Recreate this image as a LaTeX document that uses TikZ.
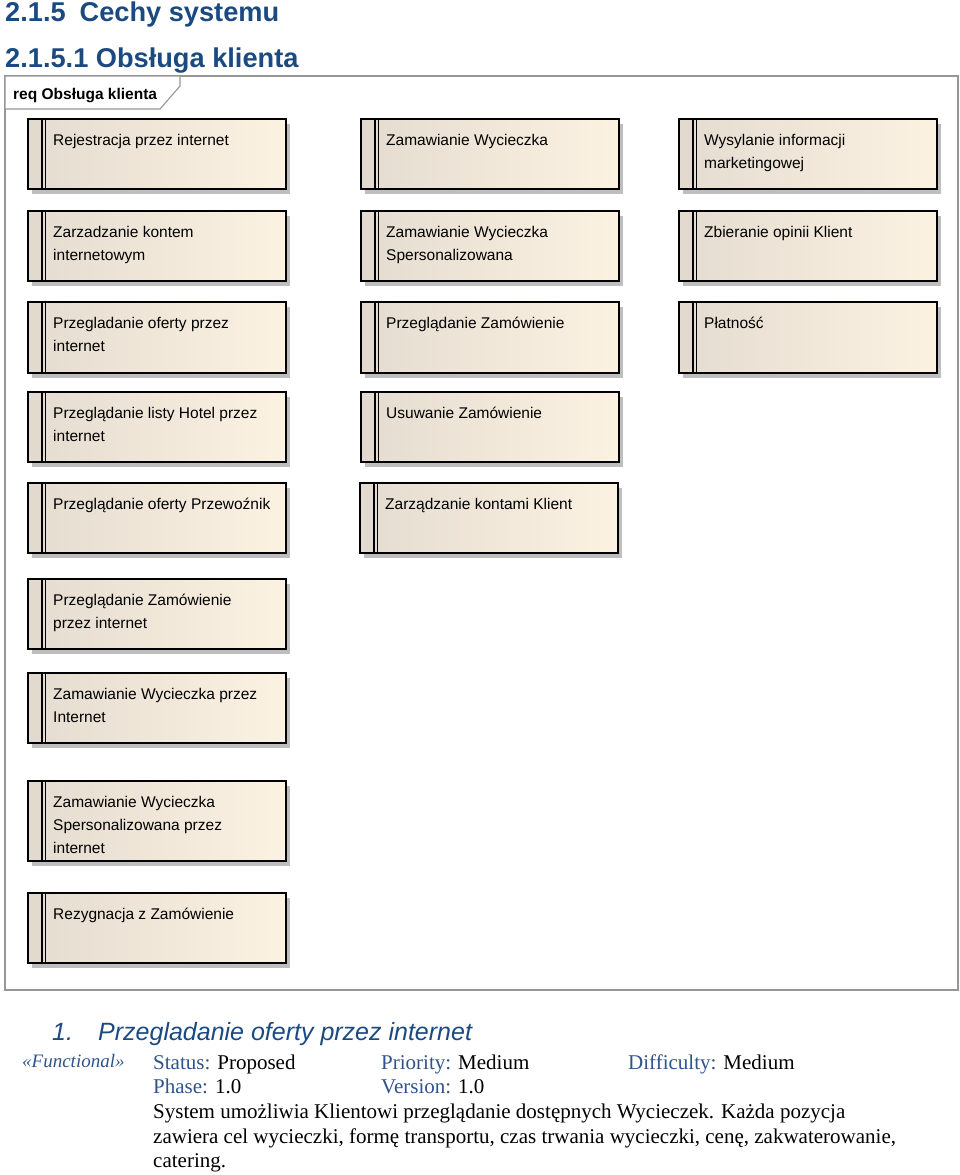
\documentclass[tikz,border=0pt]{standalone}
\usepackage{fontspec}
\setmainfont{Liberation Sans}
\newfontfamily\serifrm{Liberation Serif}
\usetikzlibrary{shadows}
\definecolor{headblue}{RGB}{27,74,128}
\definecolor{lblblue}{RGB}{46,84,140}
\definecolor{boxL}{RGB}{228,220,208}
\definecolor{boxR}{RGB}{252,242,226}
\definecolor{stripe}{RGB}{226,218,206}
\definecolor{framegray}{RGB}{150,150,150}
\definecolor{shadowgray}{RGB}{190,190,190}
\tikzset{
  reqbox/.style={draw=black, line width=1.8pt, left color=boxL, right color=boxR,
    minimum width=258pt, inner sep=0pt, anchor=north west,
    drop shadow={shadow xshift=4.5pt, shadow yshift=-5pt, fill=shadowgray, opacity=1},
    path picture={
      \fill[stripe] (path picture bounding box.north west) rectangle ([xshift=14pt]path picture bounding box.south west);
      \draw[line width=1.4pt] ([xshift=14pt]path picture bounding box.north west) -- ([xshift=14pt]path picture bounding box.south west);
      \draw[line width=1.4pt] ([xshift=17.5pt]path picture bounding box.north west) -- ([xshift=17.5pt]path picture bounding box.south west);
    }},
  reqtext/.style={anchor=north west, inner sep=0pt, align=left,
    font=\fontsize{15.5}{23}\selectfont},
  h1/.style={anchor=base west, inner sep=0pt, text=headblue, font=\fontsize{27.2}{30}\selectfont\bfseries},
  serifnode/.style={anchor=base west, inner sep=0pt, font=\serifrm\fontsize{21}{24.5}\selectfont},
  lbl/.style={serifnode, text=lblblue},
}
\newcommand{\rbox}[5]{% name, x, y, h, text
  \node[reqbox, minimum height=#4pt] (#1) at (#2,#3) {};
  \node[reqtext] (#1t) at ([xshift=26pt,yshift=-15pt]#1.north west) {\rule{0pt}{12pt}#5};
}
\begin{document}
\begin{tikzpicture}[x=1pt,y=-1pt]
\useasboundingbox (0,0) rectangle (960,1175);
% headings
\node[h1] (hA) at (5,21) {2.1.5\hspace{14pt}Cechy systemu};
\node[h1] (hB) at (5,67) {2.1.5.1 Obsługa klienta};
% frame
\draw[framegray, line width=1.3pt] (5,76) rectangle (958,990);
\draw[framegray, line width=1.1pt, fill=white] (5,76) -- (180,76) -- (180,86) -- (160,109) -- (5,109) -- cycle;
\node[anchor=base west, inner sep=0pt, font=\fontsize{15.5}{17}\selectfont\bfseries] (tab) at (13,99) {req Obsługa klienta};
% column 1
\rbox{a1}{27}{118}{70}{Rejestracja przez internet}
\rbox{a2}{27}{210}{70}{Zarzadzanie kontem\\internetowym}
\rbox{a3}{27}{301}{71}{Przegladanie oferty przez\\internet}
\rbox{a4}{27}{391}{70}{Przeglądanie listy Hotel przez\\internet}
\rbox{a5}{27}{482}{70}{Przeglądanie oferty Przewoźnik}
\rbox{a6}{27}{578}{70}{Przeglądanie Zamówienie\\przez internet}
\rbox{a7}{27}{672}{70}{Zamawianie Wycieczka przez\\Internet}
\rbox{a8}{27}{780}{80}{Zamawianie Wycieczka\\Spersonalizowana przez\\internet}
\rbox{a9}{27}{892}{70}{Rezygnacja z Zamówienie}
% column 2
\rbox{b1}{360}{118}{70}{Zamawianie Wycieczka}
\rbox{b2}{360}{210}{70}{Zamawianie Wycieczka\\Spersonalizowana}
\rbox{b3}{360}{301}{71}{Przeglądanie Zamówienie}
\rbox{b4}{360}{391}{70}{Usuwanie Zamówienie}
\rbox{b5}{359}{482}{70}{Zarządzanie kontami Klient}
% column 3
\rbox{c1}{678}{118}{70}{Wysylanie informacji\\marketingowej}
\rbox{c2}{678}{210}{70}{Zbieranie opinii Klient}
\rbox{c3}{678}{301}{71}{Płatność}
% bottom section
\node[anchor=base west, inner sep=0pt, text=headblue, font=\fontsize{25}{28}\selectfont\itshape] (n1) at (52,1040) {1.};
\node[anchor=base west, inner sep=0pt, text=headblue, font=\fontsize{25}{28}\selectfont\itshape] (n1t) at (98,1040) {Przegladanie oferty przez internet};
\node[lbl, font=\serifrm\fontsize{19}{22}\selectfont\itshape] (st) at (22,1067) {«Functional»};
\node[serifnode] (s1) at (153,1069) {\textcolor{lblblue}{Status:} Proposed};
\node[serifnode] (s2) at (381,1069) {\textcolor{lblblue}{Priority:} Medium};
\node[serifnode] (s3) at (628,1069) {\textcolor{lblblue}{Difficulty:} Medium};
\node[serifnode] (s4) at (153,1093) {\textcolor{lblblue}{Phase:} 1.0};
\node[serifnode] (s5) at (381,1093) {\textcolor{lblblue}{Version:} 1.0};
\node[serifnode] (d1) at (153,1118) {System umożliwia Klientowi przeglądanie dostępnych Wycieczek. Każda pozycja};
\node[serifnode] (d2) at (153,1143) {zawiera cel wycieczki, formę transportu, czas trwania wycieczki, cenę, zakwaterowanie,};
\node[serifnode] (d3) at (153,1167) {catering.};
\end{tikzpicture}
\end{document}
